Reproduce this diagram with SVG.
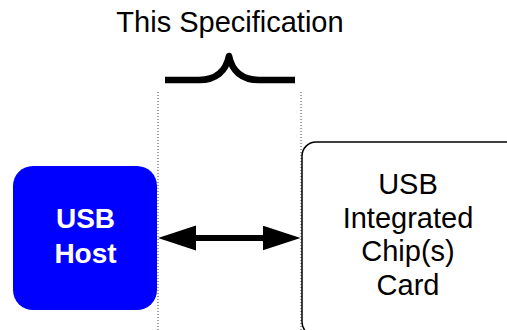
<svg xmlns="http://www.w3.org/2000/svg" width="507" height="330" viewBox="0 0 507 330">
  <defs>
    <style>
      .label { font-family: "Liberation Sans", Arial, sans-serif; font-size: 29px; text-anchor: middle; fill: #000; }
      .host-label { font-family: "Liberation Sans", Arial, sans-serif; font-size: 28px; font-weight: bold; text-anchor: middle; fill: #fff; }
      .boundary { stroke: #444; stroke-width: 1; stroke-dasharray: 1 2; fill: none; }
      .link { stroke: #000; stroke-width: 6; fill: none; }
    </style>
    <marker id="arrowhead" markerUnits="userSpaceOnUse" markerWidth="38" markerHeight="26" refX="28" refY="12.5" orient="auto-start-reverse">
      <path d="M0,0 L38,12.5 L0,25 Z" fill="#000"/>
    </marker>
  </defs>
  <rect width="507" height="330" fill="#fff"/>

  <!-- Scope of the specification -->
  <g id="spec-scope">
    <text class="label" x="230" y="32">This Specification</text>
    <path d="M165,80 H199 C216,80 226,71 229,56 C232,71 242,80 259,80 H295" fill="none" stroke="#000" stroke-width="6.5" stroke-linejoin="round"/>
    <line class="boundary" x1="158" y1="92" x2="158" y2="330"/>
    <line class="boundary" x1="301" y1="92" x2="301" y2="330"/>
  </g>

  <!-- USB host -->
  <g id="usb-host">
    <rect x="13" y="166" width="144" height="144" rx="20" ry="20" fill="#0000ff"/>
    <text class="host-label" x="85.5" y="228">USB</text>
    <text class="host-label" x="85.5" y="262.5">Host</text>
  </g>

  <!-- Card -->
  <g id="ic-card">
    <rect x="302" y="142" width="230" height="194" rx="14" ry="14" fill="#fff" stroke="#000" stroke-width="1.5"/>
    <text class="label" x="408" y="194">USB</text>
    <text class="label" x="408" y="227.5">Integrated</text>
    <text class="label" x="408" y="261">Chip(s)</text>
    <text class="label" x="408" y="294.5">Card</text>
  </g>

  <!-- Connectors -->
  <g id="connectors">
    <line class="link" x1="168" y1="238" x2="290.5" y2="238" marker-start="url(#arrowhead)" marker-end="url(#arrowhead)"/>
  </g>
</svg>
